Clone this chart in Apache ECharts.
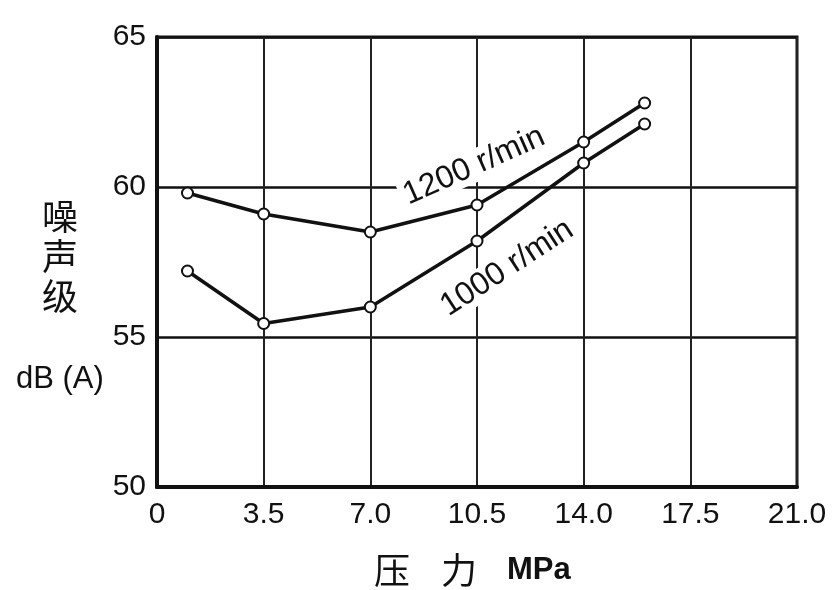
<!DOCTYPE html>
<html>
<head>
<meta charset="utf-8">
<script src="https://cdn.jsdelivr.net/npm/echarts@6/dist/echarts.min.js"></script>
<style>
html,body{margin:0;padding:0;background:#fff;}
#chart{width:834px;height:590px;}
</style>
</head>
<body>
<div id="chart"></div>
<script>
// ---- data ----
var pressure = [1.0, 3.5, 7.0, 10.5, 14.0, 16.0];
var noise1200 = [59.8, 59.1, 58.5, 59.4, 61.5, 62.8];
var noise1000 = [57.2, 55.45, 56.0, 58.2, 60.8, 62.1];
var xTickLabels = ['0', '3.5', '7.0', '10.5', '14.0', '17.5', '21.0'];
var yTickLabels = ['50', '55', '60', '65'];
var seriesNames = ['1200 r/min', '1000 r/min'];

function pairs(xs, ys) { return xs.map(function (x, i) { return [x, ys[i]]; }); }

var chart = echarts.init(document.getElementById('chart'));
var numFont = '"Liberation Sans", Arial, sans-serif';
var cjkFont = '"Noto Sans CJK SC", sans-serif';

var seriesStyle = {
  type: 'line',
  symbol: 'circle',
  symbolSize: 11,
  itemStyle: { color: '#fff', borderColor: '#111', borderWidth: 2 },
  lineStyle: { color: '#111', width: 3.5 },
  animation: false,
  z: 5
};

chart.setOption({
  backgroundColor: '#fff',
  animation: false,
  grid: { left: 157, right: 37, top: 37, bottom: 103, show: true, borderColor: '#111', borderWidth: 3, backgroundColor: 'transparent' },
  xAxis: {
    type: 'value', min: 0, max: 21, interval: 3.5,
    axisLine: { show: true, lineStyle: { color: '#111', width: 4 } },
    axisTick: { show: false },
    splitLine: { show: true, lineStyle: { color: '#222', width: 2 } },
    axisLabel: {
      fontSize: 30, color: '#111', fontFamily: numFont, margin: 13,
      formatter: function (v) { return xTickLabels[Math.round(v / 3.5)]; }
    }
  },
  yAxis: {
    type: 'value', min: 50, max: 65, interval: 5,
    axisLine: { show: true, lineStyle: { color: '#111', width: 4 } },
    axisTick: { show: false },
    splitLine: { show: true, lineStyle: { color: '#111', width: 2.5 } },
    axisLabel: {
      fontSize: 30, color: '#111', fontFamily: numFont, margin: 11,
      formatter: function (v) { return yTickLabels[Math.round((v - 50) / 5)]; }
    }
  },
  series: [
    Object.assign({ name: seriesNames[0], data: pairs(pressure, noise1200) }, seriesStyle),
    Object.assign({ name: seriesNames[1], data: pairs(pressure, noise1000) }, seriesStyle)
  ],
  graphic: [
    { type: 'text', x: 474, y: 166, rotation: 24 * Math.PI / 180, z: 10,
      style: { text: seriesNames[0], font: '32px ' + numFont, fill: '#111', align: 'center', verticalAlign: 'middle', backgroundColor: '#fff', padding: [0, 4] } },
    { type: 'text', x: 507, y: 268, rotation: 33 * Math.PI / 180, z: 10,
      style: { text: seriesNames[1], font: '32px ' + numFont, fill: '#111', align: 'center', verticalAlign: 'middle', backgroundColor: '#fff', padding: [0, 2] } },
    { type: 'text', x: 42, y: 196, z: 10,
      style: { text: '噪\n声\n级', font: '36px ' + cjkFont, lineHeight: 40, fill: '#111' } },
    { type: 'text', x: 16, y: 364, z: 10,
      style: { text: 'dB (A)', font: '31px ' + numFont, fill: '#111' } },
    { type: 'text', x: 374, y: 552, z: 10,
      style: { text: '压', font: '36px ' + cjkFont, fill: '#111' } },
    { type: 'text', x: 441, y: 552, z: 10,
      style: { text: '力', font: '36px ' + cjkFont, fill: '#111' } },
    { type: 'text', x: 507, y: 555, z: 10,
      style: { text: 'MPa', font: 'bold 31px ' + numFont, fill: '#111' } }
  ]
});
</script>
</body>
</html>
